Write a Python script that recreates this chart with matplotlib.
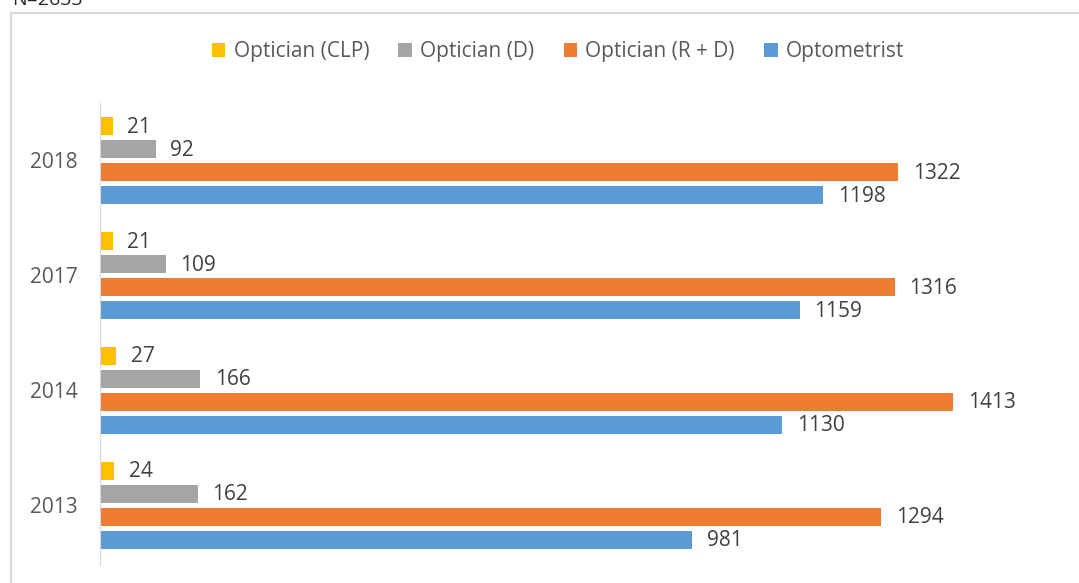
import matplotlib.pyplot as plt
from matplotlib.patches import Rectangle
import numpy as np

# data
years = ["2013", "2014", "2017", "2018"]
series = ["Optician (CLP)", "Optician (D)", "Optician (R + D)", "Optometrist"]
clp = [24, 27, 21, 21]
d = [162, 166, 109, 92]
rd = [1294, 1413, 1316, 1322]
opto = [981, 1130, 1159, 1198]
colors = ["#FFC000", "#A5A5A5", "#ED7D31", "#5B9BD5"]

plt.rcParams['font.family'] = ['Open Sans', 'DejaVu Sans']

fig = plt.figure(figsize=(10.79, 5.83), dpi=100)
fig.patches.append(Rectangle((11/1079, -0.1), 1.2, 1 - 13/583 + 0.1, transform=fig.transFigure,
                             fill=False, edgecolor="#D9D9D9", linewidth=1.5))
fig.text(12/1079, 1 - 5/583, "N=2633", fontsize=14, color="#262626", va="baseline")

ax = fig.add_axes([100/1079, 1 - 565/583, 966/1079, 462/583])
y = np.arange(len(years))
offsets = [0.3, 0.1, -0.1, -0.3]
for vals, off, col, name in zip([clp, d, rd, opto], offsets, colors, series):
    bars = ax.barh(y + off, vals, height=0.157, color=col, label=name)
    for b, v in zip(bars, vals):
        ax.text(b.get_width() + 24, b.get_y() + b.get_height() / 2 - 0.01, str(v),
                va="center", ha="left", fontsize=15, color="#404040")

ax.set_xlim(0, 1600)
ax.set_ylim(-0.52, 3.5)
ax.set_yticks(y)
ax.set_yticklabels(years, fontsize=15, color="#595959")
ax.set_xticks([])
for s in ["top", "right", "bottom"]:
    ax.spines[s].set_visible(False)
ax.spines["left"].set_color("#D9D9D9")
ax.tick_params(axis="y", length=0, pad=16)

h, l = ax.get_legend_handles_labels()
fig.legend(h, l, loc="center", bbox_to_anchor=(558/1079, 1 - 52/583), ncol=4, frameon=False,
           fontsize=15, labelcolor="#595959", handlelength=0.65, handleheight=0.65,
           handletextpad=0.4, columnspacing=1.4)

fig.savefig("out.png", dpi=100)
